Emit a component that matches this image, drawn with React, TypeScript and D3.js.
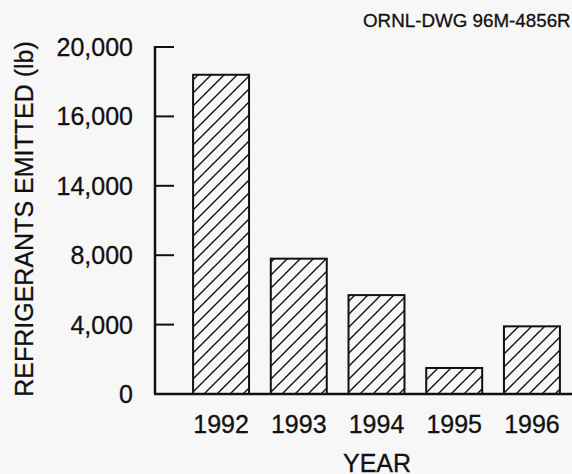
import React from "react";
import * as d3 from "d3";

// Refrigerant emissions by year
const years = ["1992", "1993", "1994", "1995", "1996"];
const emitted = [18400, 7800, 5700, 1500, 3900];

// Y axis ticks and the labels printed beside them
const yTickValues = [0, 4000, 8000, 12000, 16000, 20000];
const yTickLabels = ["0", "4,000", "8,000", "14,000", "16,000", "20,000"];

const yAxisTitle = "REFRIGERANTS EMITTED (lb)";
const xAxisTitle = "YEAR";
const drawingId = "ORNL-DWG 96M-4856R";

const W = 572;
const H = 474;
const FONT = "'Liberation Sans', Arial, Helvetica, sans-serif";
const INK = "#111";

const textStyle = {
  fontFamily: FONT,
  fill: INK,
  stroke: INK,
  strokeWidth: 0.3,
};

export default function App() {
  const axisX = 155;
  const y = d3.scaleLinear().domain([0, 20000]).range([394, 47]);
  const x = d3
    .scaleBand<string>()
    .domain(years)
    .range([axisX, 598])
    .paddingInner(0.28)
    .paddingOuter(0.49);

  const y0 = y(0);

  return (
    <div style={{ position: "absolute", left: 0, top: 0 }}>
      <svg width={W} height={H} style={{ display: "block", background: "#f7f7f7" }}>
        <defs>
          <pattern id="hatch" patternUnits="userSpaceOnUse" width={13} height={13}>
            <path
              d="M0,13 L13,0 M-3.25,3.25 L3.25,-3.25 M9.75,16.25 L16.25,9.75"
              stroke={INK}
              strokeWidth={1.4}
            />
          </pattern>
        </defs>

        <text x={363} y={27} fontSize={18.8} {...textStyle}>
          {drawingId}
        </text>

        {/* bars */}
        {years.map((yr, i) => (
          <rect
            key={yr}
            x={x(yr)}
            y={y(emitted[i])}
            width={x.bandwidth()}
            height={y0 - y(emitted[i])}
            fill="url(#hatch)"
            stroke={INK}
            strokeWidth={2}
          />
        ))}

        {/* y axis */}
        <line x1={axisX} x2={axisX} y1={y(20000) - 1} y2={y0} stroke={INK} strokeWidth={2.5} />
        {yTickValues.map((v, i) => (
          <g key={v}>
            <line x1={axisX} x2={axisX + 19} y1={y(v)} y2={y(v)} stroke={INK} strokeWidth={2} />
            <text x={133} y={y(v) + 9} textAnchor="end" fontSize={25} {...textStyle}>
              {yTickLabels[i]}
            </text>
          </g>
        ))}

        {/* baseline */}
        <line x1={axisX - 1} x2={W} y1={y0} y2={y0} stroke={INK} strokeWidth={2.5} />

        {/* x labels */}
        {years.map((yr) => (
          <text
            key={yr}
            x={(x(yr) as number) + x.bandwidth() / 2}
            y={433}
            textAnchor="middle"
            fontSize={25}
            {...textStyle}
          >
            {yr}
          </text>
        ))}

        <text x={377} y={472} textAnchor="middle" fontSize={25} {...textStyle}>
          {xAxisTitle}
        </text>

        <text
          transform="translate(33,219) rotate(-90)"
          textAnchor="middle"
          fontSize={25}
          {...textStyle}
        >
          {yAxisTitle}
        </text>
      </svg>
    </div>
  );
}
